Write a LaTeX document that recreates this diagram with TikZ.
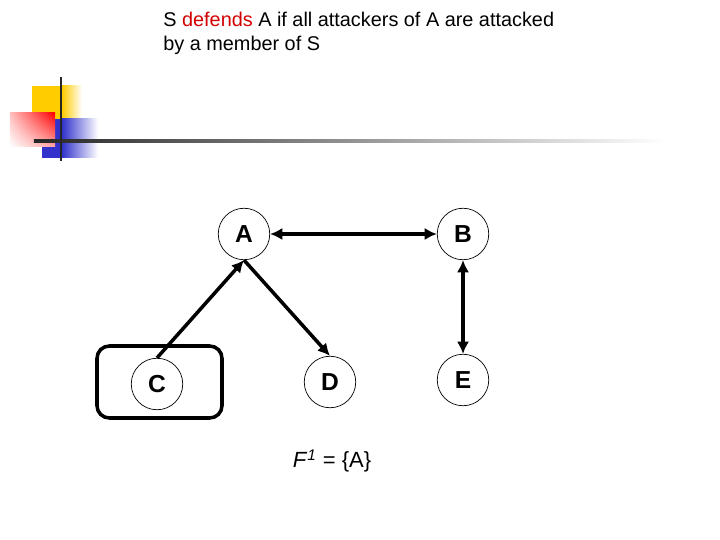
\documentclass[tikz,border=0pt]{standalone}
\usepackage{fontspec}
\setmainfont{Liberation Sans}
\usetikzlibrary{arrows.meta,positioning,shapes,shadings}

\definecolor{logoyellow}{RGB}{255,204,0}
\definecolor{logoblue}{RGB}{51,51,204}
\definecolor{defred}{RGB}{210,0,0}

\tikzset{
  arg/.style={draw, circle, thin, minimum size=1.03cm, inner sep=0pt, font=\fontsize{14}{16}\selectfont\bfseries},
  att/.style={line width=2pt, -{Latex[length=7pt,width=7pt]}},
  batt/.style={line width=2pt, {Latex[length=7pt,width=7pt]}-{Latex[length=7pt,width=7pt]}},
  setbox/.style={draw, line width=2pt, rounded corners=7pt, minimum width=2.5cm, minimum height=1.44cm},
}

\begin{document}
\begin{tikzpicture}
    \useasboundingbox (0,0) rectangle (14.4,-10.8);

    % Logo
    \fill[logoyellow] (0.64,-1.72) rectangle (1.24,-2.4);
    \shade[left color=logoyellow, right color=white] (1.24,-1.72) rectangle (1.64,-2.4);
    \fill[logoblue] (0.84,-2.38) rectangle (1.24,-3.16);
    \shade[left color=logoblue, right color=white] (1.24,-2.38) rectangle (1.96,-3.16);
    \shade[upper right=red, upper left=red!25, lower right=red!35, lower left=white] (0.2,-2.26) rectangle (1.1,-2.94);
    \shade[left color=black!85, right color=white] (0.68,-2.79) rectangle (13.3,-2.85);
    \draw[line width=1.5pt, black!85] (1.22,-1.54) -- (1.22,-3.22);

    % Title
    \node[anchor=north west, align=left, inner sep=0pt, font=\fontsize{11.3}{13.6}\selectfont] (title) at (3.26,-0.24)
        {S \textcolor{defred}{defends} A if all attackers of A are attacked\\by a member of S};

    % Arguments
    \node[arg] (a) at (4.88,-4.68) {A};
    \node[arg] (b) at (9.26,-4.68) {B};
    \node[arg] (c) at (3.14,-7.68) {C};
    \node[arg] (d) at (6.6,-7.64) {D};
    \node[arg] (e) at (9.26,-7.6) {E};
    \node[setbox] (s) at (3.19,-7.64) {};

    % Attacks
    \draw[batt] (a) -- (b);
    \draw[att] (c.north) -- (a.south);
    \draw[att] (a.south) -- (d.north);
    \draw[batt] (b) -- (e);

    % Fixpoint
    \node[font=\fontsize{12.5}{14}\selectfont] (f1) at (6.64,-9.22) {\textit{F}\textsuperscript{\textit{1}} = \{A\}};
\end{tikzpicture}
\end{document}
